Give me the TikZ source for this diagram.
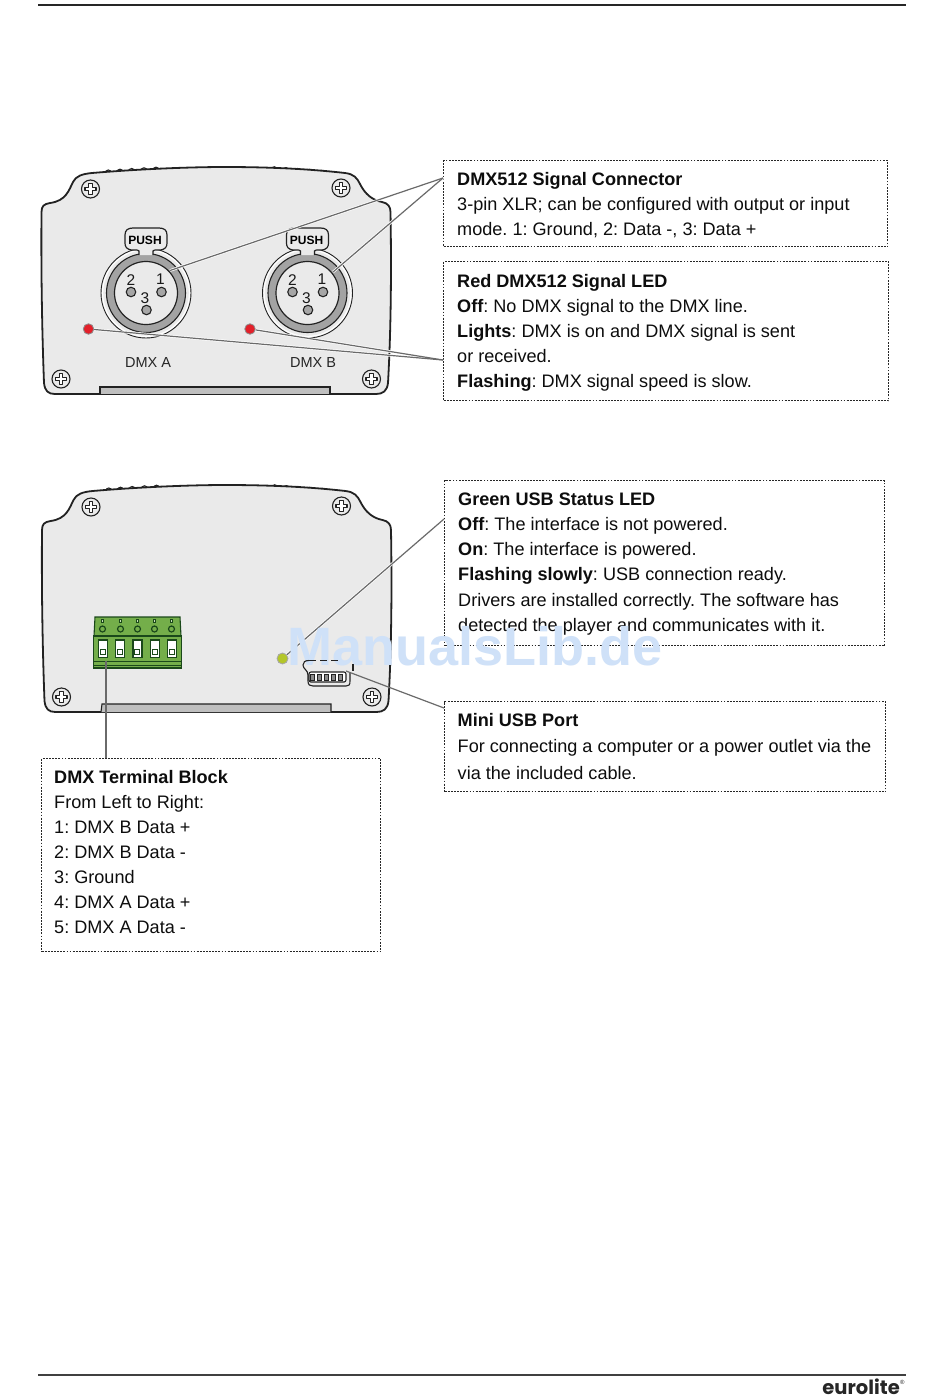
\documentclass[tikz,border=0pt]{standalone}
\usepackage{fontspec}
\setmainfont{Liberation Sans}
\newfontfamily\logofont{Poppins}
\definecolor{bodyfill}{HTML}{EAEAEA}
\definecolor{outl}{HTML}{222222}
\definecolor{leader}{HTML}{6A6A6A}
\definecolor{ringgray}{HTML}{A3A3A3}
\definecolor{termgreen}{HTML}{74AE4A}
\definecolor{termdark}{HTML}{1A481A}
\definecolor{ledred}{HTML}{E3202A}
\definecolor{ledgreen}{HTML}{B4C62A}
\definecolor{wm}{HTML}{CFE1F8}
\tikzset{
  x=1pt,y=-1pt,
  bodyline/.style={draw=outl,line width=1.8pt,fill=bodyfill,line join=round},
  edgeline/.style={draw=outl,line width=1.1pt},
  infobox/.style={draw=black!85,line width=1.4pt,dash pattern=on 1.8pt off 1.3pt},
  bodytext/.style={anchor=north west,align=left,inner sep=0pt,font=\fontsize{18.1}{25}\selectfont,text=black!95},
  leaderline/.style={draw=leader,line width=1.2pt},
  leadercase/.style={draw=white,line width=2.6pt},
  ledred/.style={circle,draw=black!45,line width=.8pt,fill=ledred,minimum size=10.5pt,inner sep=0pt},
  ledgreen/.style={circle,draw=black!35,line width=.8pt,fill=ledgreen,minimum size=11pt,inner sep=0pt},
  pinhole/.style={circle,draw=outl,line width=1.1pt,fill=black!35,minimum size=9.5pt,inner sep=0pt},
  pinlabel/.style={font=\fontsize{15.5}{16}\selectfont,inner sep=0pt,text=black!90},
  panellabel/.style={font=\fontsize{14.5}{16}\selectfont,inner sep=0pt,text=black!85},
  termwin/.style={draw=termdark,line width=1.4pt,fill=white},
  screwhead/.style={circle,draw=outl,line width=1.1pt,fill=bodyfill,minimum size=18pt,inner sep=0pt},
}
\newcommand{\panelbody}{%
  \foreach \bx/\by in {108.3/173,120/172.2,131.7/171.5,144/170.8,156/170.2,274.3/169.8,286/170.6,297.3/171.4,309.3/172.3,321.7/173.3}{%
    \draw[edgeline] (\bx-3,\by+1) -- (\bx-3,\by) arc[start angle=180,end angle=360,radius=3] -- (\bx+3,\by+1);
  }%
  \path[bodyline] (41.5,212)
    .. controls (41.5,206) and (44,204) .. (50,203)
    .. controls (66,201) and (69,190) .. (73,182)
    .. controls (76,176) and (82,174) .. (92,173)
    .. controls (140,169) and (190,167) .. (225,167)
    .. controls (270,167) and (310,169) .. (345,173)
    .. controls (354,174) and (357,178) .. (360,184)
    .. controls (365,194) and (372,200) .. (382,202)
    .. controls (388,203) and (390.5,207) .. (390.5,212)
    .. controls (391.5,270) and (391,330) .. (388,383)
    .. controls (387,391) and (383,394) .. (376,394)
    -- (55,394)
    .. controls (48,394) and (45,391) .. (44,383)
    .. controls (42,330) and (41,270) .. (41.5,212) -- cycle;
  \foreach \sx/\sy in {90.5/189,341/188,61/379,371.5/379}{%
    \node[screwhead] at (\sx,\sy) {};
    \draw[outl,line width=1.2pt,fill=white,line join=round]
      (\sx-1.8,\sy-5.5) -- (\sx+1.8,\sy-5.5) -- (\sx+1.8,\sy-1.8) -- (\sx+5.5,\sy-1.8) -- (\sx+5.5,\sy+1.8)
      -- (\sx+1.8,\sy+1.8) -- (\sx+1.8,\sy+5.5) -- (\sx-1.8,\sy+5.5) -- (\sx-1.8,\sy+1.8) -- (\sx-5.5,\sy+1.8)
      -- (\sx-5.5,\sy-1.8) -- (\sx-1.8,\sy-1.8) -- cycle;
  }%
}
\newcommand{\xlr}[1]{%
  \begin{scope}[shift={(#1,293)}]
    \draw[outl,line width=.9pt] (0,0) circle[radius=45];
    \fill[white] (0,0) circle[radius=44];
    \fill[bodyfill] (0,0) circle[radius=42.8];
    \draw[outl,line width=1.1pt,fill=ringgray] (0,0) circle[radius=39.5];
    \draw[outl,line width=1.2pt,fill=bodyfill] (0,0) circle[radius=31.5];
    \draw[outl,line width=1.2pt,fill=bodyfill] (-7,-38) -- (-7,-42) .. controls (-8,-43) .. (-13,-43)
      .. controls (-20,-43) and (-21,-47) .. (-21,-50) -- (-21,-58)
      .. controls (-21,-63) and (-18,-65) .. (-13,-65) -- (13,-65)
      .. controls (18,-65) and (21,-63) .. (21,-58) -- (21,-50)
      .. controls (21,-47) and (20,-43) .. (13,-43)
      .. controls (8,-43) .. (7,-42) -- (7,-38);
    \node[inner sep=0pt,font=\fontsize{12}{12}\selectfont\bfseries,text=black] at (-1,-53) {PUSH};
    \node[pinlabel] at (-15,-13) {2};
    \node[pinlabel] at (14.5,-14) {1};
    \node[pinlabel] at (-1,5) {3};
    \node[pinhole] at (-15,-1) {};
    \node[pinhole] at (15.5,-1) {};
    \node[pinhole] at (0.5,17) {};
  \end{scope}%
}
\begin{document}
\frenchspacing
\begin{tikzpicture}
\useasboundingbox (0,0) rectangle (950,1398);
\fill[white] (0,0) rectangle (950,1398);

% page rules
\coordinate (ruleTopL) at (38,5); \coordinate (ruleTopR) at (906,5);
\coordinate (ruleBotL) at (38,1375); \coordinate (ruleBotR) at (906,1375);
\draw[black!85,line width=1.1pt] (ruleTopL) -- (ruleTopR);
\draw[black!75,line width=1.1pt] (ruleBotL) -- (ruleBotR);
\node[anchor=base east,inner sep=0pt,font=\logofont\bfseries\fontsize{19.5}{20}\selectfont,text=black!85] (logo) at (900,1394.5) {eurolite};
\node[anchor=base west,inner sep=0pt,font=\fontsize{6}{6}\selectfont,text=black!85] (logoR) at (logo.base east) [yshift=10pt] {®};

% panel 1
\panelbody
\path[draw=outl,line width=1.1pt,fill=black!25] (100,394) -- (100,387) -- (330,387) -- (330,394);
\xlr{146}
\xlr{307.5}
\node[ledred] (ledA) at (88.5,329) {};
\node[ledred] (ledB) at (250,329) {};
\node[panellabel] (labA) at (148,362.5) {DMX A};
\node[panellabel] (labB) at (313,362.5) {DMX B};
\coordinate (xlrA) at (170,270.5);
\coordinate (xlrB) at (333,272);

% panel 2
\begin{scope}[shift={(.5,318)}]
\panelbody
\path[draw=outl,line width=1.1pt,fill=black!25] (100.5,394) -- (101.5,386) -- (330.5,386) -- (330.5,394);
\end{scope}

% terminal block
\path[draw=termdark,line width=1.1pt,fill=termgreen] (95,617) -- (180,617) -- (181,636) -- (94,636) -- cycle;
\path[draw=termdark,line width=1.5pt,fill=termgreen] (93.5,636) rectangle (181.5,668);
\draw[termdark,line width=1.3pt] (93.5,661.5) -- (181.5,661.5);
\draw[termdark,line width=.9pt] (93.5,665) -- (181.5,665);
\foreach \tx in {102.5,120.5,137.5,154.5,171.5}{
  \draw[termdark,line width=.8pt,fill=white!60!termgreen] (\tx-1.2,619.8) rectangle (\tx+1.2,622.2);
  \draw[termdark,line width=1.2pt] (\tx,629) circle[radius=3];
}
\foreach \tx in {103,120,137.3,154.7,171.7}{
  \draw[termwin] (\tx-4.5,640) rectangle (\tx+4.5,657.5);
  \draw[termdark,line width=1pt] (\tx-2.5,649) rectangle (\tx+2.5,654.5);
}
\coordinate (termPin) at (106,661);
\node[ledgreen] (ledG) at (282.5,658.5) {};

% info boxes
\node[infobox,minimum width=444pt,minimum height=86pt,anchor=north west,inner sep=0pt] (box1) at (443,160) {};
\node[infobox,minimum width=445pt,minimum height=139pt,anchor=north west,inner sep=0pt] (box2) at (443,261) {};
\node[infobox,minimum width=440pt,minimum height=165pt,anchor=north west,inner sep=0pt] (box3) at (444,480) {};
\node[infobox,minimum width=441pt,minimum height=90pt,anchor=north west,inner sep=0pt] (box4) at (444,701) {};
\node[infobox,minimum width=339pt,minimum height=193pt,anchor=north west,inner sep=0pt] (box5) at (41,758) {};

\coordinate (in1) at (443,178);
\coordinate (in2) at (443,360);
\coordinate (in3) at (444,519);
\coordinate (in4) at (444,708);
\coordinate (in5) at (106,758);

\draw[leadercase] (xlrA) -- (in1);
\draw[leadercase] (xlrB) -- (in1);
\draw[leadercase] (ledA) -- (in2);
\draw[leadercase] (ledB) -- (in2);
\draw[leadercase] (ledG) -- (in3);
\draw[leadercase] (termPin) -- (in5);
\draw[leaderline] (xlrA) -- (in1);
\draw[leaderline] (xlrB) -- (in1);
\draw[leaderline] (ledA) -- (in2);
\draw[leaderline] (ledB) -- (in2);
\draw[leaderline] (ledG) -- (in3);
\draw[leaderline] (termPin) -- (in5);

\node[bodytext] (t1) at (457,172.5) {\textbf{DMX512 Signal Connector}\\3-pin XLR; can be configured with output or input\\mode. 1: Ground, 2: Data -, 3: Data +};
\node[bodytext] (t2) at (457,274.5) {\textbf{Red DMX512 Signal LED}\\\textbf{Off}: No DMX signal to the DMX line.\\\textbf{Lights}: DMX is on and DMX signal is sent\\or received.\\\textbf{Flashing}: DMX signal speed is slow.};
\node[bodytext,font=\fontsize{18.1}{25.2}\selectfont] (t3) at (458,492.5) {\textbf{Green USB Status LED}\\\textbf{Off}: The interface is not powered.\\\textbf{On}: The interface is powered.\\\textbf{Flashing slowly}: USB connection ready.\\Drivers are installed correctly. The software has\\detected the player and communicates with it.};
\node[bodytext,font=\fontsize{18.1}{26.5}\selectfont] (t4) at (457.5,713) {\textbf{Mini USB Port}\\For connecting a computer or a power outlet via the\\via the included cable.};
\node[bodytext] (t5) at (54,770.5) {\textbf{DMX Terminal Block}\\From Left to Right:\\1: DMX B Data +\\2: DMX B Data -\\3: Ground\\4: DMX A Data +\\5: DMX A Data -};

% watermark on top
\node[anchor=base,inner sep=0pt,text=wm,font=\fontsize{54}{60}\selectfont\bfseries] (wmark) at (475,665.5) {ManualsLib.de};

% USB port, visible through the watermark
\draw[outl,line width=1.1pt,dash pattern=on 7pt off 4pt] (309,660.5) -- (341,660.5);
\draw[outl,line width=1.1pt] (309,660.5) .. controls (305,660.5) and (303,662) .. (303,665)
  .. controls (303,669) and (308,670) .. (308,675) -- (308,681)
  .. controls (308,685) and (310,686) .. (313,686) -- (346,686)
  .. controls (349,686) and (350,685) .. (350,681) -- (350,673);
\draw[outl,line width=1.1pt] (353,664) -- (353,671);
\draw[outl,line width=1.1pt,fill=white,rounded corners=2pt] (309,672) -- (346,672) -- (346,682) -- (309,682) -- cycle;
\foreach \ux in {312.5,319.5,326.5,333.5,340.5}{
  \draw[outl,line width=.8pt,fill=black!45] (\ux-2,674.5) rectangle (\ux+2,680);
}
\coordinate (usbPort) at (346,671);
\draw[leaderline] (usbPort) -- (in4);
\end{tikzpicture}
\end{document}
